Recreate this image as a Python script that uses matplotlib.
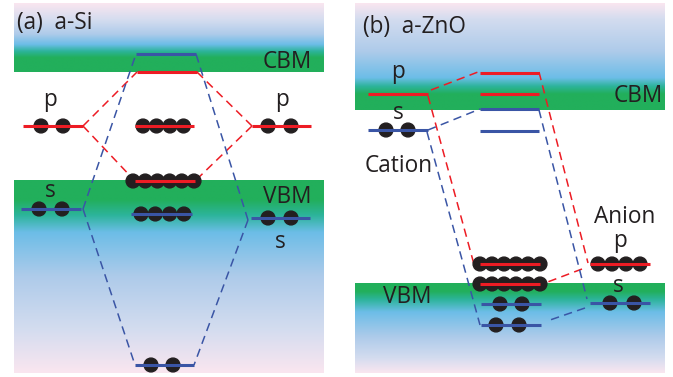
import matplotlib
matplotlib.use('Agg')
import matplotlib.pyplot as plt
import numpy as np
from matplotlib.colors import LinearSegmentedColormap
from matplotlib.patches import Circle

RED = '#ED1C24'
BLUE = '#3A55A5'
ELEC = '#231F20'
TXT = '#231F20'

# ---------------- data ----------------
# energy levels: (x_left, x_right, energy_y, colour, electrons, electron_x_start, electron_spacing)
si_levels = [
    (136, 196, 54, 'b', 0, 0, 0),      # antibonding s
    (137, 197, 72, 'r', 0, 0, 0),      # antibonding p
    (23, 83, 126, 'r', 2, 41, 22),     # atomic p left
    (135, 194, 126, 'r', 4, 143, 13.5),  # nonbonding p
    (252, 311, 126, 'r', 2, 268, 23),  # atomic p right
    (135, 195, 181, 'r', 6, 133, 12.2),  # bonding p
    (21, 81, 209, 'b', 2, 39, 23),     # atomic s left
    (131, 192, 214, 'b', 4, 141, 14.3),  # middle s
    (251, 310, 218, 'b', 2, 268, 23),  # atomic s right
    (135, 194, 365, 'b', 2, 151, 22),  # bonding s
]
si_dashes = [
    ('r', [(83, 126), (137, 72)]), ('r', [(83, 126), (135, 181)]),
    ('r', [(252, 126), (197, 72)]), ('r', [(252, 126), (195, 181)]),
    ('b', [(83, 209), (136, 54)]), ('b', [(83, 209), (135, 365)]),
    ('b', [(248, 220), (196, 54)]), ('b', [(248, 220), (194, 365)]),
]
zno_levels = [
    (368, 428, 94, 'r', 0, 0, 0),      # cation p
    (368, 428, 130, 'b', 2, 386, 22),  # cation s
    (480, 539, 73, 'r', 0, 0, 0),
    (480, 539, 94, 'r', 0, 0, 0),
    (480, 539, 109, 'b', 0, 0, 0),
    (480, 539, 131, 'b', 0, 0, 0),
    (480, 540, 264, 'r', 6, 480, 12),
    (480, 540, 284, 'r', 6, 480, 12),
    (481, 541, 304, 'b', 2, 500, 22),
    (481, 541, 325, 'b', 2, 496, 23),
    (590, 650, 264, 'r', 4, 598, 14),  # anion p
    (590, 650, 303, 'b', 2, 610, 24),  # anion s
]
zno_dashes = [
    ('r', [(431, 90), (478, 72)]), ('r', [(428, 96), (475, 268)]),
    ('b', [(428, 130), (480, 109)]), ('b', [(427, 132), (480, 325)]),
    ('r', [(539, 72), (588, 263)]), ('r', [(582, 269), (545, 283)]),
    ('b', [(539, 110), (587, 299)]), ('b', [(585, 308), (550, 320)]),
]

# text labels: (x, y_baseline, text, ha)
si_texts = [(17, 29, '(a)  a-Si', 'left'), (287, 68, 'CBM', 'center'),
            (287, 203, 'VBM', 'center'), (50, 106, 'p', 'center'),
            (282, 106, 'p', 'center'), (50, 197, 's', 'center'),
            (280, 248, 's', 'center')]
zno_texts = [(363, 33, '(b)  a-ZnO', 'left'), (638, 102, 'CBM', 'center'),
             (407, 303, 'VBM', 'center'), (398, 78, 'p', 'center'),
             (398, 119, 's', 'center'), (399, 172, 'Cation', 'center'),
             (625, 223, 'Anion', 'center'), (620, 247, 'p', 'center'),
             (618, 292, 's', 'center')]

PINK = '#FAE6F0'
LAV = '#D3DCEF'
LBLUE = '#AECBEA'
SKY = '#6CBDE7'
TEAL = '#2CB49A'
GREEN = '#22AF5B'

# gradient boxes: (x0, x1, y0, y1, stops)
boxes = [
    (14, 324, 3, 72, [(0, PINK), (0.25, LAV), (0.45, LBLUE), (0.6, SKY), (0.7, TEAL), (0.79, GREEN), (1, GREEN)]),
    (14, 324, 180, 373, [(0, GREEN), (0.1, GREEN), (0.18, TEAL), (0.27, SKY), (0.5, LBLUE), (0.77, LAV), (1, PINK)]),
    (355, 665, 3, 110, [(0, PINK), (0.15, LAV), (0.45, LBLUE), (0.7, SKY), (0.78, TEAL), (0.85, GREEN), (1, GREEN)]),
    (355, 665, 283, 373, [(0, GREEN), (0.09, GREEN), (0.18, TEAL), (0.32, SKY), (0.6, LBLUE), (0.83, LAV), (1, PINK)]),
]

# ---------------- drawing ----------------
W, H = 673, 377
fig = plt.figure(figsize=(W / 100, H / 100), dpi=100)
ax = fig.add_axes([0, 0, 1, 1])
ax.set_xlim(0, W)
ax.set_ylim(H, 0)
ax.axis('off')

for x0, x1, y0, y1, stops in boxes:
    cmap = LinearSegmentedColormap.from_list('g', stops)
    img = np.linspace(0, 1, 256).reshape(-1, 1)
    ax.imshow(img, cmap=cmap, extent=(x0, x1, y1, y0), aspect='auto',
              interpolation='bilinear', zorder=0)

col = {'r': RED, 'b': BLUE}

for dashes in (si_dashes, zno_dashes):
    for c, pts in dashes:
        xs, ys = zip(*pts)
        ax.plot(xs, ys, color=col[c], lw=1.1, ls=(0, (5.5, 3.5)), zorder=2)

for levels in (si_levels, zno_levels):
    for xl, xr, y, c, n, ex, dx in levels:
        for i in range(n):
            ax.add_patch(Circle((ex + i * dx, y), 6.9, color=ELEC, zorder=3))
        ax.plot([xl, xr], [y, y], color=col[c], lw=2.2, solid_capstyle='butt', zorder=4)

for texts in (si_texts, zno_texts):
    for x, y, t, ha in texts:
        ax.text(x, y, t, ha=ha, va='baseline', fontsize=16.3,
                family=['Open Sans', 'DejaVu Sans'], color=TXT, zorder=5)

fig.savefig('out.png', dpi=100)
